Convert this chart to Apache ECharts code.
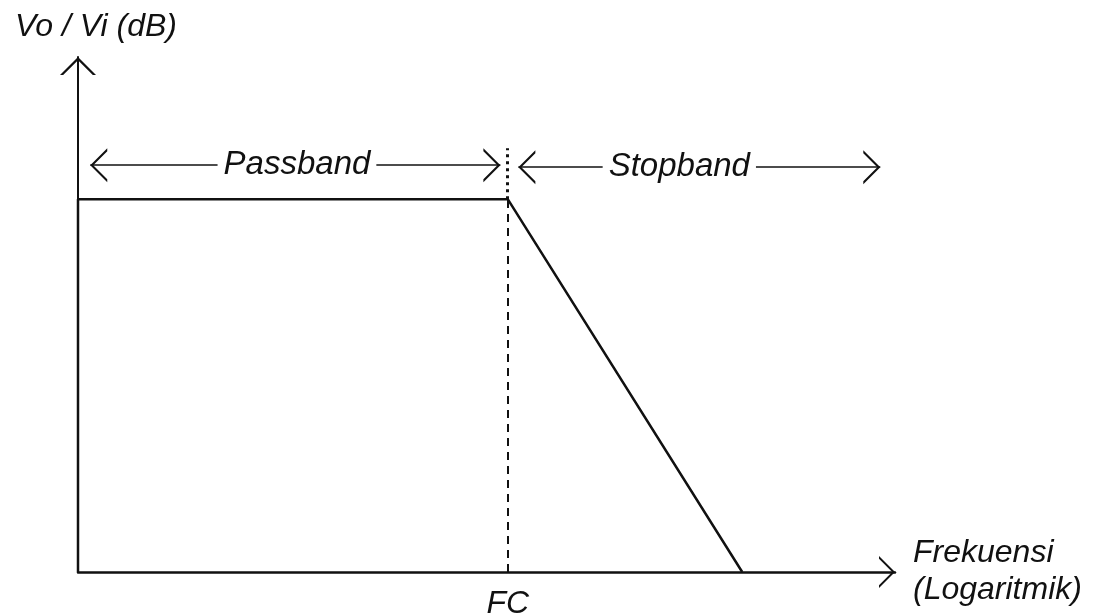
<!DOCTYPE html>
<html>
<head>
<meta charset="utf-8">
<script src="https://cdn.jsdelivr.net/npm/echarts@6/dist/echarts.min.js"></script>
<style>
  html, body { margin: 0; padding: 0; background: #fff; }
  #chart { width: 1094px; height: 616px; }
</style>
</head>
<body>
<div id="chart"></div>
<script>
// respons filter lolos bawah (satuan bebas, sumbu 0..100)
var freq = [0, 0, 52.6, 81.3];
var gain = [0, 72.4, 72.4, 0];
var cutoff = 52.6;
var cutoffLabel = 'FC';
var cutoffTop = 82.3;

var bandNames = ['Passband', 'Stopband'];
var bandFrom = [1.5, 53.9];
var bandTo = [51.7, 98.2];
var bandY = [79.0, 78.6];
var bandTextX = [26.8, 73.6];

var yName = 'Vo / Vi (dB)';
var xName = 'Frekuensi\n(Logaritmik)';

window.onload = function() {
  var myChart = echarts.init(document.getElementById('chart'));
  var font = 'Liberation Sans, Arial, sans-serif';

  // panah terbuka, ujung di tengah kotak simbol
  var chevron = 'path://M20,-20L20,-20M0,20L20,0L40,20L36.5,20L20,3.5L3.5,20Z';

  var response = [];
  for (var i = 0; i < freq.length; i++) {
    response.push([freq[i], gain[i]]);
  }

  var bandLabels = [], bandArrows = [];
  for (var j = 0; j < bandNames.length; j++) {
    bandLabels.push({ name: bandNames[j], value: [bandTextX[j], bandY[j]] });
    bandArrows.push([{ coord: [bandFrom[j], bandY[j]] }, { coord: [bandTo[j], bandY[j]] }]);
  }

  var textStyle = {
    fontFamily: font,
    fontStyle: 'italic',
    fontSize: 32,
    color: '#111'
  };

  var option = {
    animation: false,
    backgroundColor: '#fff',
    grid: { left: 78, right: 199, top: 57, bottom: 44 },
    xAxis: {
      type: 'value',
      min: 0,
      max: 100,
      name: xName,
      nameLocation: 'end',
      nameGap: 18,
      nameTextStyle: Object.assign({}, textStyle, {
        align: 'left',
        verticalAlign: 'middle',
        lineHeight: 37
      }),
      axisLine: {
        show: true,
        symbol: ['none', chevron],
        symbolSize: [32, 32],
        lineStyle: { color: '#111', width: 2.5 }
      },
      axisTick: { show: false },
      axisLabel: { show: false },
      splitLine: { show: false }
    },
    yAxis: {
      type: 'value',
      min: 0,
      max: 100,
      name: yName,
      nameLocation: 'end',
      nameGap: 14,
      nameTextStyle: Object.assign({}, textStyle, {
        align: 'center',
        padding: [0, 0, 0, 36]
      }),
      axisLine: {
        show: true,
        symbol: ['none', chevron],
        symbolSize: [36, 36],
        lineStyle: { color: '#111', width: 2 }
      },
      axisTick: { show: false },
      axisLabel: { show: false },
      splitLine: { show: false }
    },
    series: [
      {
        name: 'Respons',
        type: 'line',
        data: response,
        showSymbol: false,
        symbol: 'none',
        lineStyle: { color: '#111', width: 2.5 },
        z: 3,
        markLine: {
          silent: true,
          symbol: ['none', 'none'],
          label: { show: false },
          lineStyle: { color: '#111', width: 2, type: [8, 6] },
          data: [
            [
              {
                coord: [cutoff, 0],
                label: {
                  show: true,
                  position: 'start',
                  formatter: cutoffLabel,
                  distance: 16,
                  fontFamily: font,
                  fontStyle: 'italic',
                  fontSize: 32,
                  color: '#111'
                }
              },
              { coord: [cutoff, gain[2]] }
            ],
            [
              { coord: [cutoff, gain[2]], lineStyle: { type: [3, 4], width: 3 } },
              { coord: [cutoff, cutoffTop] }
            ]
          ]
        }
      },
      {
        name: 'Pita',
        type: 'scatter',
        data: bandLabels,
        symbolSize: 0,
        itemStyle: { opacity: 1, color: '#111' },
        z: 5,
        label: {
          show: true,
          position: 'inside',
          formatter: '{b}',
          backgroundColor: '#fff',
          padding: [0, 6],
          fontFamily: font,
          fontStyle: 'italic',
          fontSize: 33,
          color: '#111'
        },
        markLine: {
          silent: true,
          z: 2,
          symbol: [chevron, chevron],
          symbolSize: [34, 34],
          label: { show: false },
          lineStyle: { color: '#111', width: 1.5, type: 'solid' },
          data: bandArrows
        }
      }
    ]
  };

  myChart.setOption(option);
};
</script>
</body>
</html>
